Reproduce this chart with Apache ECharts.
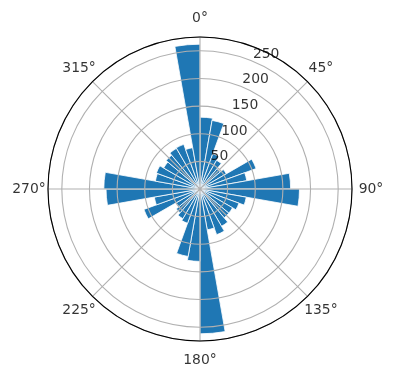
<!DOCTYPE html>
<html><head><meta charset="utf-8">
<script src="https://cdn.jsdelivr.net/npm/echarts@6/dist/echarts.min.js"></script>
<style>html,body{margin:0;padding:0;background:#fff}#c{width:396px;height:380px}</style>
</head><body><div id="c"></div>
<script>
// bin start angles (degrees, clockwise from north), 10° bins
var binStarts = [0,10,20,30,40,50,60,70,80,90,100,110,120,130,140,150,160,170,180,190,200,210,220,230,240,250,260,270,280,290,300,310,320,330,340,350];
var counts = [130,126,68,60,48,55,108,86,164,180,85,75,68,68,78,88,75,262,131,124,66,62,56,50,108,84,170,174,82,84,76,80,85,86,76,262];
var radialTicks = [50,100,150,200,250];
var radialLabelAngle = 22.5;
var angleTicks = [0,45,90,135,180,225,270,315];
var angleTickLabels = ['0°','45°','90°','135°','180°','225°','270°','315°'];
var rMax = 275;

var FONT = 'DejaVu Sans';
var chart = echarts.init(document.getElementById('c'), null, {renderer:'canvas'});
var cx = 200, cy = 189, R = 152;
chart.setOption({
  backgroundColor:'#fff',
  animation:false,
  polar:[
    {center:[cx,cy], radius:R},
    {center:[cx,cy], radius:R},
    {center:[cx,cy], radius:171}
  ],
  angleAxis:[
    {polarIndex:0, type:'category', data:binStarts.map(String), startAngle:90, clockwise:true, boundaryGap:true,
     axisLine:{show:false}, axisTick:{show:false}, axisLabel:{show:false}, splitLine:{show:false}},
    {polarIndex:1, type:'value', min:0, max:360, interval:45, startAngle:90, clockwise:true, z:10,
     axisLine:{show:true, lineStyle:{color:'#000', width:1.1}}, axisTick:{show:false}, axisLabel:{show:false},
     splitLine:{show:true, lineStyle:{color:'#b0b0b0', width:1.1}}},
    {polarIndex:2, type:'value', min:0, max:360, startAngle:90, clockwise:true, show:false}
  ],
  radiusAxis:[
    {polarIndex:0, type:'value', min:0, max:rMax, show:false},
    {polarIndex:1, type:'value', min:0, max:rMax, interval:50, z:9,
     axisLine:{show:false}, axisTick:{show:false}, axisLabel:{show:false},
     splitLine:{show:true, lineStyle:{color:'#b0b0b0', width:1.1}}},
    {polarIndex:2, type:'value', min:0, max:1, show:false}
  ],
  series:[
    {type:'bar', coordinateSystem:'polar', polarIndex:0, data:counts, barCategoryGap:'0%', z:2,
     itemStyle:{color:'#1f77b4', borderColor:'#ffffff', borderWidth:0.8}},
    {type:'scatter', coordinateSystem:'polar', polarIndex:1, symbolSize:0, z:20,
     data:radialTicks.map(function(v){return [v, radialLabelAngle];}),
     label:{show:true, position:[0,0], align:'left', verticalAlign:'bottom', fontFamily:FONT, fontSize:13.9, color:'#000',
       formatter:function(p){return String(p.data[0]);}}},
    {type:'scatter', coordinateSystem:'polar', polarIndex:2, symbolSize:0, z:20,
     data:angleTicks.map(function(a){return [1, a];}),
     label:{show:true, position:'inside', fontFamily:FONT, fontSize:13.9, color:'#000',
       formatter:function(p){return angleTickLabels[p.dataIndex];}}}
  ]
});
</script></body></html>
